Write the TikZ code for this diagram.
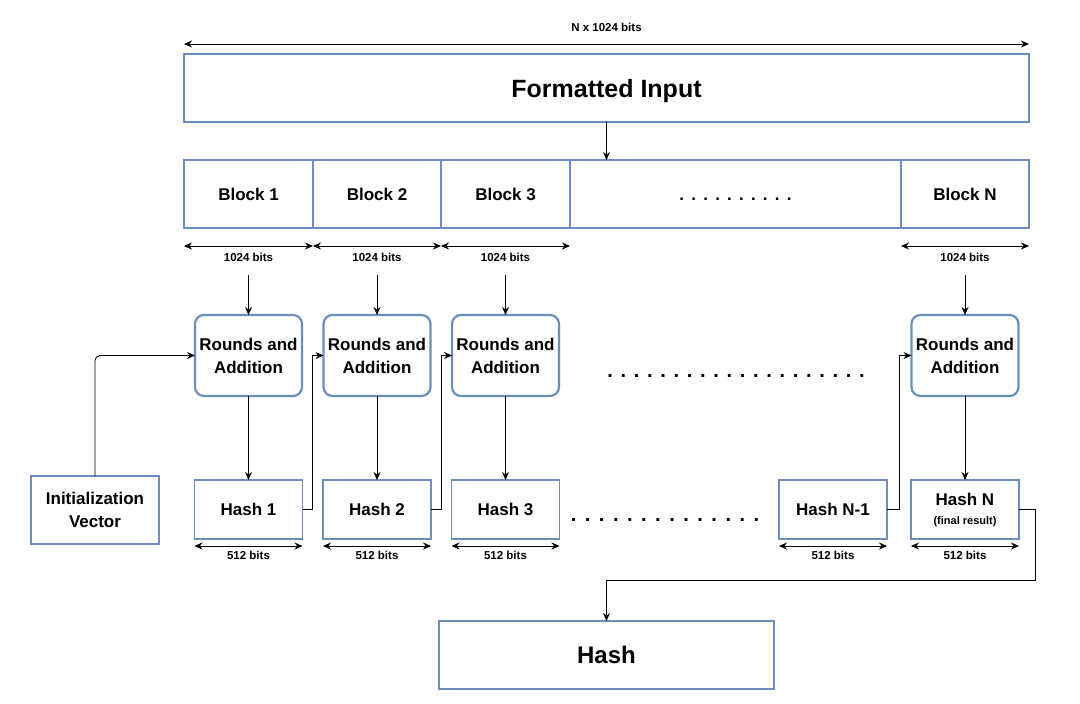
\documentclass[tikz,border=0pt]{standalone}
\usepackage{fontspec}
\setmainfont{Liberation Sans}
\usetikzlibrary{arrows.meta, positioning, calc}
\definecolor{boxblue}{HTML}{6C8EBF}
\newcommand{\spacedots}[2]{.\foreach \k in {2,...,#1}{\hspace{#2}.}}

\begin{document}
\begin{tikzpicture}[x=1pt, y=1pt,
				block/.style={rectangle, draw=boxblue, line width=1.2pt, align=center, inner sep=0pt, outer sep=0pt,
						font=\bfseries\fontsize{17}{23}\selectfont},
				rblock/.style={block, rounded corners=9pt, line width=2.2pt, minimum width=107pt, minimum height=81pt},
				hblock/.style={block, minimum width=108pt, minimum height=59pt},
				bits/.style={font=\bfseries\fontsize{11.5}{13}\selectfont, inner sep=1pt},
				dots/.style={font=\bfseries\fontsize{20}{22}\selectfont, inner sep=0pt},
				line/.style={draw, -{Stealth[length=8pt, width=7pt]}, line width=0.9pt},
				dim/.style={draw, {Stealth[length=8pt, width=7pt]}-{Stealth[length=8pt, width=7pt]}, line width=0.9pt}
			]
			\useasboundingbox (0,0) rectangle (1080,-704);

			\node [block, minimum width=845pt, minimum height=68pt, text depth=0pt, font=\bfseries\fontsize{25}{28}\selectfont] (input) at (606.5,-88) {Formatted Input};

			\node [block, minimum width=129pt, minimum height=68pt] (blk1) at (248.5,-194) {Block 1};
			\node [block, minimum width=128pt, minimum height=68pt, right=0pt of blk1] (blk2) {Block 2};
			\node [block, minimum width=129pt, minimum height=68pt, right=0pt of blk2] (blk3) {Block 3};
			\node [block, minimum width=331pt, minimum height=68pt, right=0pt of blk3, text height=12pt, text depth=0pt] (blkdots) {\spacedots{10}{7.2pt}};
			\node [block, minimum width=128pt, minimum height=68pt, right=0pt of blkdots] (blkN) {Block N};

			\node [rblock, below=87pt of blk1] (rnd1) {Rounds and\\ Addition};
			\node [rblock, below=87pt of blk2] (rnd2) {Rounds and\\ Addition};
			\node [rblock, below=87pt of blk3] (rnd3) {Rounds and\\ Addition};
			\node [rblock, below=87pt of blkN] (rndN) {Rounds and\\ Addition};
			\node [dots, anchor=base] (rnddots) at (736,-377) {\spacedots{20}{7.7pt}};

			\node [hblock, below=84pt of rnd1] (hash1) {Hash 1};
			\node [hblock, below=84pt of rnd2] (hash2) {Hash 2};
			\node [hblock, below=84pt of rnd3] (hash3) {Hash 3};
			\node [hblock, below=84pt of rndN] (hashN) {Hash N\\[-4pt]{\fontsize{11}{12}\selectfont (final result)}};
			\node [hblock, left=24pt of hashN] (hashN1) {Hash N-1};
			\node [dots, anchor=base] (hashdots) at (665,-521) {\spacedots{14}{8.5pt}};

			\node [block, minimum width=128pt, minimum height=68pt] (iv) at (95,-510) {Initialization\\ Vector};
			\node [block, minimum width=335pt, minimum height=68pt, font=\bfseries\fontsize{24}{28}\selectfont] (out) at (606.5,-655) {Hash};

			% bit widths
			\path [dim] ([yshift=10pt]input.north west) -- ([yshift=10pt]input.north east)
				node [bits, midway, above=11pt] (bitsall) {N x 1024 bits};
			\foreach \b in {blk1,blk2,blk3,blkN} {
				\path [dim] ([yshift=-18pt]\b.south west) -- ([yshift=-18pt]\b.south east)
					node [bits, midway, below=6pt] (bits\b) {1024 bits};
			}
			\foreach \h in {hash1,hash2,hash3,hashN1,hashN} {
				\path [dim] ([yshift=-7pt]\h.south west) -- ([yshift=-7pt]\h.south east)
					node [bits, midway, below=4pt] (bits\h) {512 bits};
			}

			\path [line] (input.south) -- (input.south |- blkdots.north);
			\foreach \b/\r/\h in {blk1/rnd1/hash1, blk2/rnd2/hash2, blk3/rnd3/hash3, blkN/rndN/hashN} {
				\path [line] ([yshift=-12pt]bits\b.south) -- (\r);
				\path [line] (\r) -- (\h);
			}
			\path [line, rounded corners=5pt] (iv.north) |- (rnd1.west);
			\path [line] (hash1.east) -| ($(hash1.east)!0.5!(hash2.west)$) |- (rnd2.west);
			\path [line] (hash2.east) -| ($(hash2.east)!0.5!(hash3.west)$) |- (rnd3.west);
			\path [line] (hashN1.east) -| ($(hashN1.east)!0.5!(hashN.west)$) |- (rndN.west);
			\path [line] (hashN.east) -- ++(16,0) |- ([yshift=41pt]out.north) -- (out.north);
		\end{tikzpicture}
\end{document}
